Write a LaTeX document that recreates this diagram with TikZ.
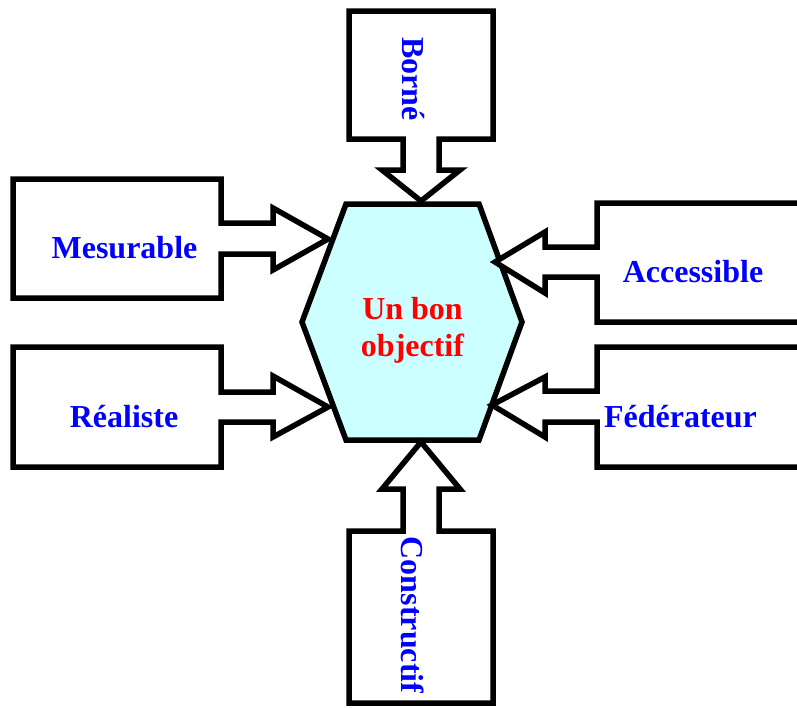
\documentclass[tikz,border=0pt]{standalone}
\usepackage{fontspec}
\setmainfont{Liberation Serif}
\definecolor{hexfill}{RGB}{204,255,255}
\definecolor{labelblue}{RGB}{0,0,255}
\definecolor{labelred}{RGB}{255,0,0}
\begin{document}
\begin{tikzpicture}[x=1pt,y=-1pt,
  outline/.style={draw=black,line width=5.5pt,line join=miter,miter limit=10},
  callout/.style={outline,fill=white},
  hexa/.style={outline,fill=hexfill},
  lbl/.style={font=\fontsize{32}{37}\selectfont\bfseries,text=labelblue,inner sep=0pt},
  centrelbl/.style={font=\fontsize{32}{37}\selectfont\bfseries,text=labelred,align=center,inner sep=0pt}]
\useasboundingbox (0,0) rectangle (797,707);
\begin{scope}
\clip (0,0) rectangle (797,707);

% central hexagon
\draw[hexa] (346,204) -- (479,204) -- (522,322) -- (479,440) -- (346,440) -- (302,322) -- cycle;
\node[centrelbl] (centre) at (412.5,330) {Un bon\\objectif};

% top callout
\draw[callout] (349,11) -- (493,11) -- (493,139) -- (439,139) -- (439,170) -- (460,170)
  -- (421,201) -- (382,170) -- (403,170) -- (403,139) -- (349,139) -- cycle;
\node[lbl,rotate=-90] (borne) at (413,79) {Borné};

% bottom callout
\draw[callout] (349,703) -- (493,703) -- (493,531) -- (439,531) -- (439,489) -- (460,489)
  -- (421,442) -- (382,489) -- (403,489) -- (403,531) -- (349,531) -- cycle;
\node[lbl,rotate=-90] (constructif) at (413,615) {Constructif};

% left callouts
\draw[callout] (13,179) -- (221,179) -- (221,223) -- (273,223) -- (273,208)
  -- (328,239) -- (273,270) -- (273,254) -- (221,254) -- (221,298) -- (13,298) -- cycle;
\node[lbl,anchor=base] (mesurable) at (124.5,258) {Mesurable};

\draw[callout] (13,347) -- (221,347) -- (221,392) -- (273,392) -- (273,376)
  -- (328,407) -- (273,437) -- (273,422) -- (221,422) -- (221,467) -- (13,467) -- cycle;
\node[lbl,anchor=base] (realiste) at (124,427) {Réaliste};

% right callouts
\draw[callout] (815,203) -- (597,203) -- (597,247) -- (545,247) -- (545,232)
  -- (495,262) -- (545,293) -- (545,277) -- (597,277) -- (597,322) -- (815,322) -- cycle;
\node[lbl,anchor=base] (accessible) at (693,282) {Accessible};

\draw[callout] (815,347) -- (597,347) -- (597,391) -- (545,391) -- (545,377)
  -- (492,405) -- (545,437) -- (545,422) -- (597,422) -- (597,467) -- (815,467) -- cycle;
\node[lbl,anchor=base] (federateur) at (680.5,427) {Fédérateur};
\end{scope}
\end{tikzpicture}
\end{document}
